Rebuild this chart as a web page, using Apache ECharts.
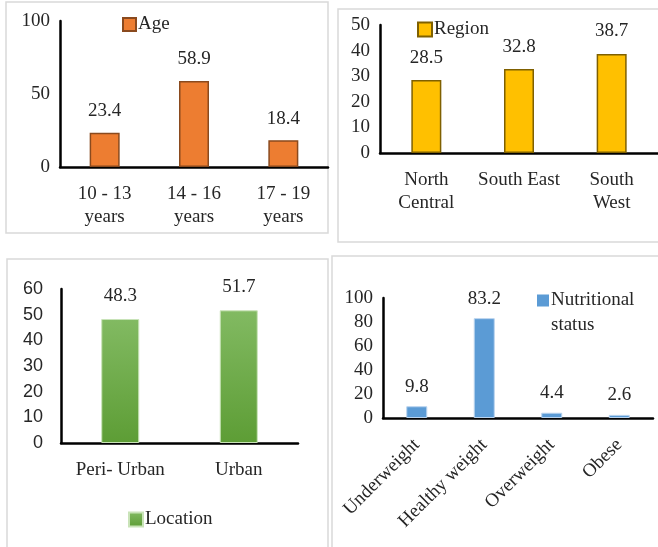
<!DOCTYPE html>
<html>
<head>
<meta charset="utf-8">
<script src="https://cdn.jsdelivr.net/npm/echarts@6/dist/echarts.min.js"></script>
<style>
  html, body { margin: 0; padding: 0; background: #fff; }
  #chart { width: 658px; height: 547px; }
</style>
</head>
<body>
<div id="chart"></div>
<script>
// data
var ageCats = ['10 - 13\nyears', '14 - 16\nyears', '17 - 19\nyears'];
var ageVals = [23.4, 58.9, 18.4];
var regionCats = ['North\nCentral', 'South East', 'South\nWest'];
var regionVals = [28.5, 32.8, 38.7];
var locationCats = ['Peri- Urban', 'Urban'];
var locationVals = [48.3, 51.7];
var nutritionCats = ['Underweight', 'Healthy weight', 'Overweight', 'Obese'];
var nutritionVals = [9.8, 83.2, 4.4, 2.6];

var serif = 'Liberation Serif';
var txt = '#262626';
var fs = 19;

var chart = echarts.init(document.getElementById('chart'));

function xAxis(idx, cats, margin, rotate) {
  return {
    type: 'category',
    gridIndex: idx,
    data: cats,
    axisLine: { lineStyle: { color: '#000', width: 2.5 } },
    axisTick: { show: false },
    axisLabel: {
      interval: 0,
      margin: margin,
      rotate: rotate || 0,
      fontFamily: serif,
      fontSize: fs,
      lineHeight: 23,
      color: txt
    }
  };
}

function yAxis(idx, max, step, font, size, margin) {
  return {
    type: 'value',
    gridIndex: idx,
    min: 0,
    max: max,
    interval: step,
    splitLine: { show: false },
    axisLine: { show: true, lineStyle: { color: '#000', width: 2.5 } },
    axisTick: { show: false },
    axisLabel: { margin: margin, fontFamily: font, fontSize: size, color: txt }
  };
}

function barLabel(dist) {
  return { show: true, position: 'top', distance: dist, fontFamily: serif, fontSize: fs, color: txt };
}

function legendText(extra) {
  var t = { fontFamily: serif, fontSize: fs, color: txt, padding: [0, 0, 0, -3] };
  for (var k in extra) t[k] = extra[k];
  return t;
}

// square marker; the two-line legend gets empty space below so the square sits on the first line
var squareIcon = 'rect';
var topSquareIcon = 'path://M0,0h12v12h-12z M0,37h0.01v0.01h-0.01z';

var option = {
  backgroundColor: '#fff',
  animation: false,
  graphic: [
    { type: 'rect', shape: { x: 6, y: 2, width: 322, height: 231 }, style: { fill: 'none', stroke: '#d9d9d9', lineWidth: 1.5 } },
    { type: 'rect', shape: { x: 338, y: 9, width: 330, height: 233 }, style: { fill: 'none', stroke: '#d9d9d9', lineWidth: 1.5 } },
    { type: 'rect', shape: { x: 7, y: 259, width: 321, height: 300 }, style: { fill: 'none', stroke: '#d9d9d9', lineWidth: 1.5 } },
    { type: 'rect', shape: { x: 332, y: 256, width: 330, height: 300 }, style: { fill: 'none', stroke: '#d9d9d9', lineWidth: 1.5 } }
  ],
  legend: [
    { data: ['Age'], icon: squareIcon, left: 122, top: 15, padding: 0, itemWidth: 13, itemHeight: 13,
      textStyle: legendText({}) },
    { data: ['Region'], icon: squareIcon, left: 417, top: 20, padding: 0, itemWidth: 14, itemHeight: 14,
      textStyle: legendText({}) },
    { data: ['Location'], icon: squareIcon, left: 128, top: 510, padding: 0, itemWidth: 14, itemHeight: 14,
      textStyle: legendText({}) },
    { data: ['Nutritional status'], icon: topSquareIcon, left: 537, top: 288, padding: 0, itemWidth: 12, itemHeight: 37,
      itemStyle: { borderWidth: 0 },
      formatter: function () { return 'Nutritional\nstatus'; },
      textStyle: legendText({ lineHeight: 25 }) }
  ],
  grid: [
    { left: 60, top: 21, width: 268, height: 146 },
    { left: 380, top: 25, width: 278, height: 128 },
    { left: 61, top: 289, width: 237, height: 154 },
    { left: 383, top: 298, width: 270, height: 120 }
  ],
  xAxis: [
    xAxis(0, ageCats, 16),
    xAxis(1, regionCats, 16),
    xAxis(2, locationCats, 16),
    xAxis(3, nutritionCats, 24, 45)
  ],
  yAxis: [
    yAxis(0, 100, 50, serif, fs, 10),
    yAxis(1, 50, 10, serif, fs, 10),
    yAxis(2, 60, 10, 'Liberation Sans', 18, 18),
    yAxis(3, 100, 20, serif, fs, 10)
  ],
  series: [
    {
      name: 'Age', type: 'bar', xAxisIndex: 0, yAxisIndex: 0, data: ageVals, barWidth: 30,
      itemStyle: { color: '#ED7D31', borderColor: '#8a4a1e', borderWidth: 1.5 },
      label: barLabel(12)
    },
    {
      name: 'Region', type: 'bar', xAxisIndex: 1, yAxisIndex: 1, data: regionVals, barWidth: 30,
      itemStyle: { color: '#FFC000', borderColor: '#7f6000', borderWidth: 1.5 },
      label: barLabel(13)
    },
    {
      name: 'Location', type: 'bar', xAxisIndex: 2, yAxisIndex: 2, data: locationVals, barWidth: 38,
      itemStyle: {
        color: new echarts.graphic.LinearGradient(0, 0, 0, 1, [
          { offset: 0, color: '#82ba62' },
          { offset: 1, color: '#5d9d35' }
        ]),
        borderColor: '#c9e3b8', borderWidth: 1
      },
      label: barLabel(14)
    },
    {
      name: 'Nutritional status', type: 'bar', xAxisIndex: 3, yAxisIndex: 3, data: nutritionVals, barWidth: 21,
      itemStyle: { color: '#5B9BD5', borderColor: '#b9d3ee', borderWidth: 1 },
      label: barLabel(10)
    }
  ]
};

chart.setOption(option);
</script>
</body>
</html>
